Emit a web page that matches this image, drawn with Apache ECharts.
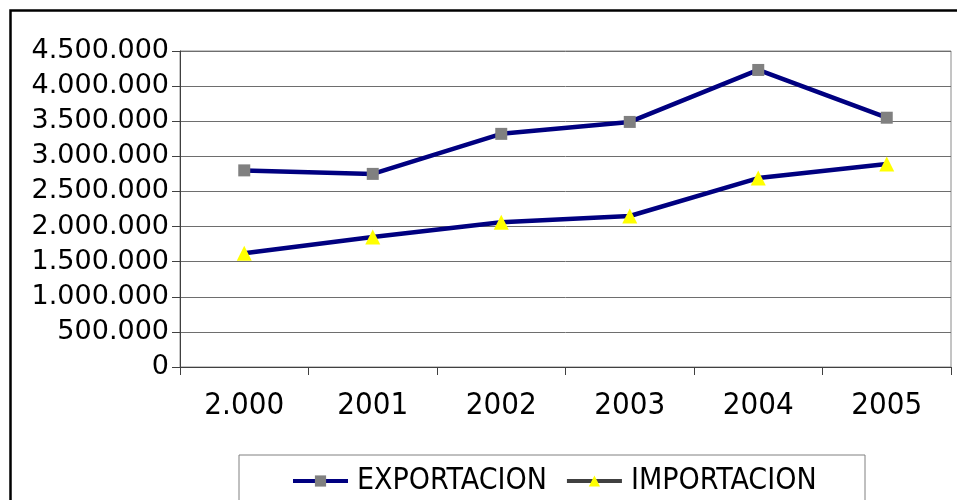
<!DOCTYPE html>
<html><head><meta charset="utf-8">
<script src="https://cdn.jsdelivr.net/npm/echarts@6/dist/echarts.min.js"></script>
<style>html,body{margin:0;padding:0;background:#fff}#c{width:957px;height:500px}</style>
</head><body><div id="c"></div>
<script>
const categories = ['2.000', '2001', '2002', '2003', '2004', '2005'];
const exportacion = [2800000, 2750000, 3320000, 3490000, 4230000, 3550000];
const importacion = [1620000, 1850000, 2060000, 2150000, 2690000, 2890000];
const yTicks = { min: 0, max: 4500000, interval: 500000 };

function fmt(v) { return String(v).replace(/\B(?=(\d{3})+(?!\d))/g, '.'); }

const chart = echarts.init(document.getElementById('c'));
chart.setOption({
  animation: false,
  backgroundColor: '#fff',
  grid: { left: 180, right: 6, top: 51, bottom: 133, show: true, borderColor: '#8a8a8a', borderWidth: 1, backgroundColor: '#fff' },
  xAxis: {
    type: 'category', data: categories, boundaryGap: true,
    axisLine: { lineStyle: { color: '#404040', width: 1 } },
    axisTick: { show: true, length: 8, lineStyle: { color: '#404040' } },
    axisLabel: { fontFamily: 'DejaVu Sans Condensed', fontSize: 31, color: '#000', margin: 23 },
    splitLine: { show: false }
  },
  yAxis: {
    type: 'value', min: yTicks.min, max: yTicks.max, interval: yTicks.interval,
    axisLine: { show: true, lineStyle: { color: '#404040', width: 1 } },
    axisTick: { show: true, length: 8, lineStyle: { color: '#404040' } },
    axisLabel: { fontFamily: 'DejaVu Sans', fontSize: 27, color: '#000', margin: 11, padding: [5, 0, 0, 0], formatter: fmt },
    splitLine: { show: true, lineStyle: { color: '#6e6e6e', width: 1 } }
  },
  legend: {
    left: 286, top: 461, itemWidth: 55, itemHeight: 14, itemGap: 18,
    textStyle: { fontFamily: 'DejaVu Sans Condensed', fontSize: 30, color: '#000', padding: [0, 0, 0, 4] },
    data: [
      { name: 'EXPORTACION', itemStyle: { color: '#808080' }, lineStyle: { color: '#000080', width: 4 } },
      { name: 'IMPORTACION', itemStyle: { color: '#ffff00' }, lineStyle: { color: '#404040', width: 4 } }
    ]
  },
  graphic: [
    { type: 'rect', left: 8, top: 8, shape: { x: 0, y: 0, width: 970, height: 520 }, style: { fill: null, stroke: '#000', lineWidth: 2.5 }, silent: true, z: 100 },
    { type: 'rect', shape: { x: 239, y: 455, width: 626, height: 60 }, style: { fill: null, stroke: '#808080', lineWidth: 1 }, silent: true, z: 100 }
  ],
  series: [
    { name: 'EXPORTACION', type: 'line', data: exportacion, symbol: 'rect', symbolSize: 12,
      lineStyle: { color: '#000080', width: 4.5 }, itemStyle: { color: '#808080' } },
    { name: 'IMPORTACION', type: 'line', data: importacion, symbol: 'triangle', symbolSize: 15,
      lineStyle: { color: '#000080', width: 4.5 }, itemStyle: { color: '#ffff00' } }
  ]
});
</script></body></html>
